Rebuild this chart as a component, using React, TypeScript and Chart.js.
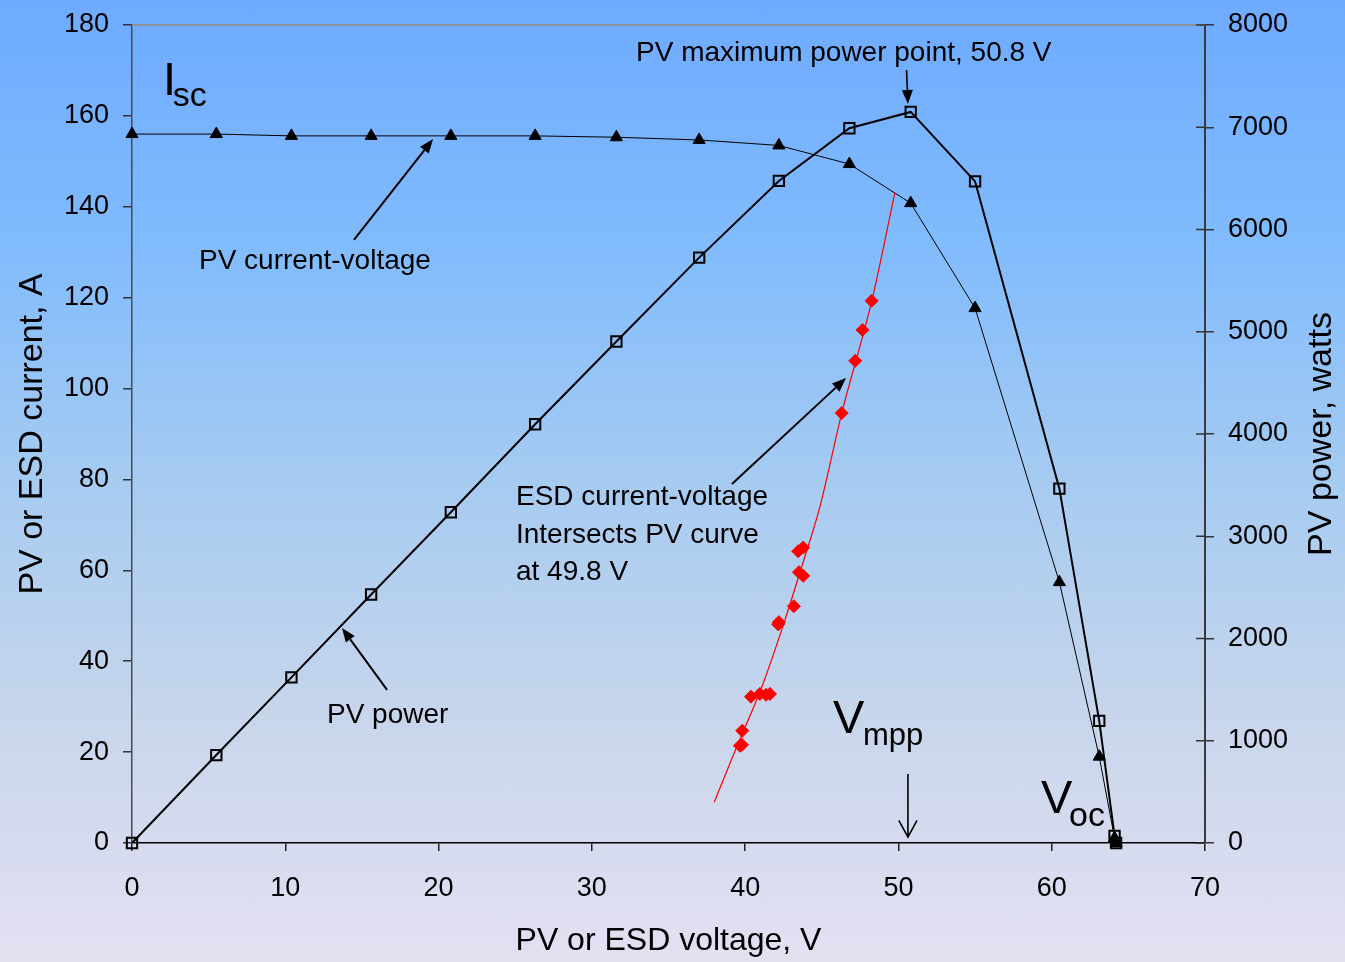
import React, { useEffect, useRef } from "react";
import { Chart, registerables } from "chart.js";

Chart.register(...registerables);

const W = 1345;
const H = 962;
const FONT = '"Liberation Sans", Arial, Helvetica, sans-serif';

// PV array measurements (voltage V, current A, power W)
const pvVoltage = [0, 5.5, 10.4, 15.6, 20.8, 26.3, 31.6, 37.0, 42.2, 46.8, 50.8, 55.0, 60.5, 63.1, 64.1, 64.2];
const pvCurrent = [156.0, 156.0, 155.6, 155.6, 155.6, 155.6, 155.3, 154.7, 153.5, 149.4, 140.8, 117.7, 57.4, 19.0, 1.1, 0];
const pvPower = [0, 860, 1620, 2430, 3235, 4095, 4905, 5725, 6475, 6990, 7150, 6470, 3465, 1195, 70, 0];

// ESD measured points
const esdVoltage = [48.25, 47.66, 47.18, 46.3, 43.79, 43.46, 43.79, 43.51, 43.18, 42.16, 42.2, 40.38, 40.96, 41.36, 41.62, 39.81, 39.66, 39.79];
const esdCurrent = [119.3, 112.9, 106.1, 94.6, 65.0, 64.2, 58.8, 59.6, 52.1, 48.1, 48.6, 32.2, 32.8, 32.6, 32.8, 24.7, 21.4, 21.6];

// ESD fitted curve
const esdTrendVoltage = [37.98, 39.45, 41.08, 42.6, 43.69, 44.88, 46.3, 48.25, 49.77];
const esdTrendCurrent = [8.96, 21.19, 34.27, 49.1, 60.8, 74.0, 94.56, 119.12, 143.1];

// Axis ranges
const xRange = [0, 70, 10];
const currentRange = [0, 180, 20];
const powerRange = [0, 8000, 1000];

function arrowFilled(ctx: CanvasRenderingContext2D, x1: number, y1: number, x2: number, y2: number, lw: number) {
  const ang = Math.atan2(y2 - y1, x2 - x1);
  const len = 14;
  const hw = 5.5;
  const bx = x2 - len * Math.cos(ang);
  const by = y2 - len * Math.sin(ang);
  ctx.beginPath();
  ctx.lineWidth = lw;
  ctx.moveTo(x1, y1);
  ctx.lineTo(bx, by);
  ctx.stroke();
  ctx.beginPath();
  ctx.moveTo(x2, y2);
  ctx.lineTo(bx + hw * Math.sin(ang), by - hw * Math.cos(ang));
  ctx.lineTo(bx - hw * Math.sin(ang), by + hw * Math.cos(ang));
  ctx.closePath();
  ctx.fill();
}

function arrowOpen(ctx: CanvasRenderingContext2D, x1: number, y1: number, x2: number, y2: number, lw: number) {
  const ang = Math.atan2(y2 - y1, x2 - x1);
  const len = 19;
  const spread = 0.5;
  ctx.beginPath();
  ctx.lineWidth = lw;
  ctx.moveTo(x1, y1);
  ctx.lineTo(x2, y2);
  ctx.moveTo(x2 - len * Math.cos(ang - spread), y2 - len * Math.sin(ang - spread));
  ctx.lineTo(x2, y2);
  ctx.lineTo(x2 - len * Math.cos(ang + spread), y2 - len * Math.sin(ang + spread));
  ctx.stroke();
}

const annotationPlugin = {
  id: "pvAnnotations",
  afterDraw(chart: any) {
    const ctx: CanvasRenderingContext2D = chart.ctx;
    const xs = chart.scales.x;
    const ys = chart.scales.y;
    const y1 = chart.scales.y1;
    const X = (v: number) => xs.getPixelForValue(v);
    const Y = (v: number) => ys.getPixelForValue(v);
    const { left, right, top, bottom } = chart.chartArea;
    ctx.save();

    // top frame line
    ctx.strokeStyle = "#8b9099";
    ctx.lineWidth = 2;
    ctx.beginPath();
    ctx.moveTo(left, top);
    ctx.lineTo(right, top);
    ctx.stroke();

    // right axis inner tick halves
    ctx.strokeStyle = "#333";
    ctx.lineWidth = 1.5;
    y1.ticks.forEach((t: any) => {
      const py = y1.getPixelForValue(t.value);
      ctx.beginPath();
      ctx.moveTo(right - 9, py);
      ctx.lineTo(right, py);
      ctx.stroke();
    });

    // right axis title, reading upwards
    ctx.fillStyle = "#000";
    ctx.save();
    ctx.translate(y1.right - 23, (top + bottom) / 2);
    ctx.rotate(-Math.PI / 2);
    ctx.font = `34px ${FONT}`;
    ctx.textAlign = "center";
    ctx.textBaseline = "middle";
    ctx.fillText("PV power, watts", 0, 0);
    ctx.restore();

    ctx.fillStyle = "#000";
    ctx.strokeStyle = "#000";
    ctx.textBaseline = "alphabetic";
    ctx.textAlign = "left";

    // texts
    ctx.font = `28px ${FONT}`;
    ctx.fillText("PV maximum power point, 50.8 V", X(32.88), Y(172.1));
    ctx.fillText("PV current-voltage", X(4.37), Y(126.3));
    ctx.fillText("PV power", X(12.72), Y(26.4));
    ctx.fillText("ESD current-voltage", X(25.05), Y(74.4));
    ctx.fillText("Intersects PV curve", X(25.05), Y(66.0));
    ctx.fillText("at 49.8 V", X(25.05), Y(57.9));

    // Isc
    ctx.font = `47px ${FONT}`;
    ctx.fillText("I", X(2.02), Y(164.6));
    ctx.font = `34px ${FONT}`;
    ctx.fillText("sc", X(2.66), Y(162.2));

    // Vmpp
    ctx.font = `47px ${FONT}`;
    ctx.fillText("V", X(45.73), Y(24.2));
    ctx.font = `31px ${FONT}`;
    ctx.fillText("mpp", X(47.69), Y(21.6));

    // Voc
    ctx.font = `47px ${FONT}`;
    ctx.fillText("V", X(59.3), Y(6.6));
    ctx.font = `34px ${FONT}`;
    ctx.fillText("oc", X(61.13), Y(3.7));

    // arrows
    arrowFilled(ctx, X(50.53), Y(170.1), X(50.62), Y(162.6), 1.6);
    arrowFilled(ctx, X(14.48), Y(132.7), X(19.64), Y(154.9), 2);
    arrowFilled(ctx, X(16.64), Y(33.7), X(13.7), Y(47.3), 2);
    arrowFilled(ctx, X(39.14), Y(79.0), X(46.58), Y(102.3), 2);
    arrowOpen(ctx, X(50.62), Y(15.2), X(50.62), Y(1.3), 1.6);

    ctx.restore();
  },
};

export default function App() {
  const canvasRef = useRef<HTMLCanvasElement | null>(null);

  useEffect(() => {
    const canvas = canvasRef.current;
    if (!canvas) return;

    const tickFont = { family: FONT, size: 27 };
    const fmt = (v: any) => String(v);

    const chart = new Chart(canvas, {
      type: "line",
      data: {
        datasets: [
          {
            label: "ESD fit",
            data: esdTrendVoltage.map((v, i) => ({ x: v, y: esdTrendCurrent[i] })),
            yAxisID: "y",
            borderColor: "#ff0000",
            borderWidth: 1.2,
            pointRadius: 0,
            cubicInterpolationMode: "monotone",
            fill: false,
            clip: false,
          },
          {
            label: "ESD current-voltage",
            data: esdVoltage.map((v, i) => ({ x: v, y: esdCurrent[i] })),
            yAxisID: "y",
            showLine: false,
            pointStyle: "rectRot",
            pointRadius: 6.5,
            pointBackgroundColor: "#ff0000",
            pointBorderColor: "#ff0000",
            pointBorderWidth: 1,
            clip: false,
          },
          {
            label: "PV current-voltage",
            data: pvVoltage.map((v, i) => ({ x: v, y: pvCurrent[i] })),
            yAxisID: "y",
            borderColor: "#000",
            borderWidth: 1,
            pointStyle: "triangle",
            pointRadius: 7,
            pointBackgroundColor: "#000",
            pointBorderColor: "#000",
            pointBorderWidth: 1,
            tension: 0,
            fill: false,
            clip: false,
          },
          {
            label: "PV power",
            data: pvVoltage.map((v, i) => ({ x: v, y: pvPower[i] })),
            yAxisID: "y1",
            borderColor: "#000",
            borderWidth: 2,
            pointStyle: "rect",
            pointRadius: 7.3,
            pointBackgroundColor: "rgba(0,0,0,0)",
            pointBorderColor: "#000",
            pointBorderWidth: 2,
            tension: 0,
            fill: false,
            clip: false,
          },
        ],
      },
      options: {
        responsive: false,
        animation: false,
        layout: { padding: { top: 25, left: 0, right: 0, bottom: 0 } },
        plugins: {
          legend: { display: false },
          tooltip: { enabled: false },
        },
        scales: {
          x: {
            type: "linear",
            position: "bottom",
            min: xRange[0],
            max: xRange[1],
            ticks: { stepSize: xRange[2], font: tickFont, color: "#000", padding: 21, callback: fmt, maxRotation: 0 },
            grid: { drawOnChartArea: false, drawTicks: true, tickLength: 8, color: "#222", lineWidth: 1.5 },
            border: { display: true, color: "#000", width: 1.5 },
            title: {
              display: true,
              text: "PV or ESD voltage, V",
              font: { family: FONT, size: 32 },
              color: "#000",
              padding: { top: 0, bottom: 2 },
            },
            afterFit: (scale: any) => {
              scale.height = 119;
              scale.paddingLeft = 0;
              scale.paddingRight = 0;
            },
          },
          y: {
            type: "linear",
            position: "left",
            min: currentRange[0],
            max: currentRange[1],
            ticks: { stepSize: currentRange[2], font: tickFont, color: "#000", padding: 14, callback: fmt },
            grid: { drawOnChartArea: false, drawTicks: true, tickLength: 9, color: "#333", lineWidth: 1.5 },
            border: { display: true, color: "#4a4a4a", width: 1.5 },
            title: {
              display: true,
              text: "PV or ESD current, A",
              font: { family: FONT, size: 34 },
              color: "#000",
              padding: { top: 12, bottom: 0 },
            },
            afterFit: (scale: any) => {
              scale.width = 132;
              scale.paddingTop = 0;
              scale.paddingBottom = 0;
            },
          },
          y1: {
            type: "linear",
            position: "right",
            min: powerRange[0],
            max: powerRange[1],
            ticks: { stepSize: powerRange[2], font: tickFont, color: "#000", padding: 14, callback: fmt },
            grid: { drawOnChartArea: false, drawTicks: true, tickLength: 9, color: "#333", lineWidth: 1.5 },
            border: { display: true, color: "#3a3a3a", width: 2 },
            title: { display: false },
            afterFit: (scale: any) => {
              scale.width = 140;
              scale.paddingTop = 0;
              scale.paddingBottom = 0;
            },
          },
        },
      } as any,
      plugins: [annotationPlugin],
    } as any);

    return () => {
      chart.destroy();
    };
  }, []);

  return (
    <div
      style={{
        position: "fixed",
        left: 0,
        top: 0,
        width: W,
        height: H,
        overflow: "hidden",
        background:
          "linear-gradient(to bottom, #6eaaff 0%, #80bbfd 25%, #a6cbf1 50%, #c8d6ec 75%, #e4e0f2 100%)",
      }}
    >
      <canvas ref={canvasRef} width={W} height={H} style={{ display: "block", width: W, height: H }} />
    </div>
  );
}
